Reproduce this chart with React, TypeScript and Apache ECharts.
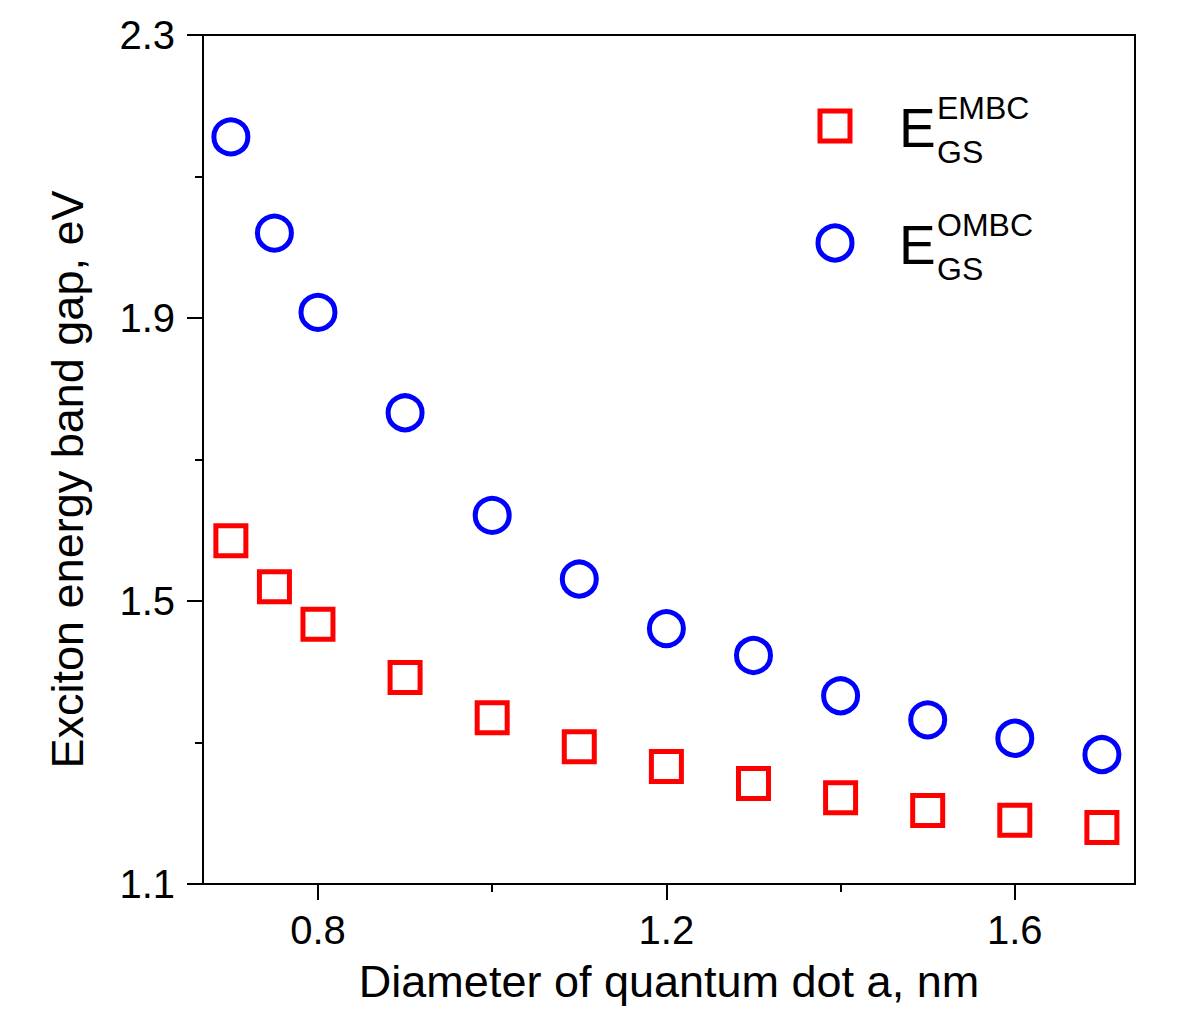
import React, { useEffect, useRef } from "react";
import * as echarts from "echarts";

// Data
const diameters = [0.7, 0.75, 0.8, 0.9, 1.0, 1.1, 1.2, 1.3, 1.4, 1.5, 1.6, 1.7];
const embcValues = [1.585, 1.520, 1.467, 1.392, 1.335, 1.294, 1.266, 1.242, 1.222, 1.204, 1.190, 1.180];
const ombcValues = [2.156, 2.020, 1.908, 1.766, 1.621, 1.531, 1.461, 1.423, 1.366, 1.332, 1.306, 1.283];
const xMajorTicks = [0.8, 1.2, 1.6];
const xMinorTicks = [1.0, 1.4];
const yMajorTicks = [1.1, 1.5, 1.9, 2.3];
const yMinorTicks = [1.3, 1.7, 2.1];
const xTitle = "Diameter of quantum dot a, nm";
const yTitle = "Exciton energy band gap, eV";

const FONT = "'Liberation Sans', Arial, Helvetica, sans-serif";
const RED = "#ff0000";
const BLUE = "#0000ff";

export default function App() {
  const ref = useRef<HTMLDivElement>(null);
  useEffect(() => {
    document.body.style.margin = "0";
    const chart = echarts.init(ref.current!, null, { renderer: "svg" });
    const xMin = 0.668, xMax = 1.738, yMin = 1.1, yMax = 2.3;
    const baseX = {
      type: "value",
      min: xMin,
      max: xMax,
      splitLine: { show: false },
    };
    const baseY = {
      type: "value",
      min: yMin,
      max: yMax,
      splitLine: { show: false },
    };
    const txt = (text: string, x: number, y: number, size: number) => ({
      type: "text",
      x,
      y,
      style: { text, font: `${size}px ${FONT}`, fill: "#000", verticalAlign: "middle", textVerticalAlign: "middle" },
    });
    const option: any = {
      animation: false,
      backgroundColor: "#fff",
      grid: {
        left: 203,
        top: 35,
        right: 65,
        bottom: 141,
        show: true,
        borderColor: "#000",
        borderWidth: 2,
        containLabel: false,
        outerBoundsMode: "none",
      },
      xAxis: [
        {
          ...baseX,
          position: "bottom",
          name: xTitle,
          nameLocation: "middle",
          nameGap: 75,
          nameTextStyle: { fontFamily: FONT, fontSize: 45, color: "#000" },
          axisLine: { show: true, lineStyle: { color: "#000", width: 2 } },
          axisTick: { show: true, customValues: xMajorTicks, length: 16, inside: false, lineStyle: { color: "#000", width: 2 } },
          axisLabel: {
            show: true,
            customValues: xMajorTicks,
            margin: 26,
            fontFamily: FONT,
            fontSize: 40,
            color: "#000",
            formatter: (v: number) => v.toFixed(1),
          },
        },
        {
          ...baseX,
          position: "bottom",
          axisLine: { show: false },
          axisTick: { show: true, customValues: xMinorTicks, length: 8, inside: false, lineStyle: { color: "#000", width: 2 } },
          axisLabel: { show: false },
        },
      ],
      yAxis: [
        {
          ...baseY,
          position: "left",
          name: yTitle,
          nameLocation: "middle",
          nameGap: 113,
          nameTextStyle: { fontFamily: FONT, fontSize: 45, color: "#000", padding: [0, 40, 0, 0] },
          axisLine: { show: true, lineStyle: { color: "#000", width: 2 } },
          axisTick: { show: true, customValues: yMajorTicks, length: 16, inside: false, lineStyle: { color: "#000", width: 2 } },
          axisLabel: {
            show: true,
            customValues: yMajorTicks,
            margin: 28,
            fontFamily: FONT,
            fontSize: 40,
            color: "#000",
            formatter: (v: number) => v.toFixed(1),
          },
        },
        {
          ...baseY,
          position: "left",
          axisLine: { show: false },
          axisTick: { show: true, customValues: yMinorTicks, length: 8, inside: false, lineStyle: { color: "#000", width: 2 } },
          axisLabel: { show: false },
        },
      ],
      series: [
        {
          name: "EMBC",
          type: "scatter",
          xAxisIndex: 0,
          yAxisIndex: 0,
          symbol: "rect",
          symbolSize: 30,
          itemStyle: { color: "rgba(0,0,0,0)", borderColor: RED, borderWidth: 5, opacity: 1 },
          data: diameters.map((d, i) => [d, embcValues[i]]),
        },
        {
          name: "OMBC",
          type: "scatter",
          xAxisIndex: 0,
          yAxisIndex: 0,
          symbol: "circle",
          symbolSize: 34,
          itemStyle: { color: "rgba(0,0,0,0)", borderColor: BLUE, borderWidth: 5, opacity: 1 },
          data: diameters.map((d, i) => [d, ombcValues[i]]),
        },
      ],
      graphic: [
        { type: "rect", shape: { x: 820, y: 111, width: 30, height: 30 }, style: { fill: "none", stroke: RED, lineWidth: 5 } },
        { type: "circle", shape: { cx: 835, cy: 243, r: 17 }, style: { fill: "none", stroke: BLUE, lineWidth: 5 } },
        txt("E", 899, 128, 55),
        txt("EMBC", 937, 108, 32),
        txt("GS", 937, 152, 32),
        txt("E", 899, 245, 55),
        txt("OMBC", 937, 225, 32),
        txt("GS", 937, 269, 32),
      ],
    };
    chart.setOption(option);
    return () => chart.dispose();
  }, []);
  return <div ref={ref} style={{ width: 1200, height: 1025 }} />;
}
